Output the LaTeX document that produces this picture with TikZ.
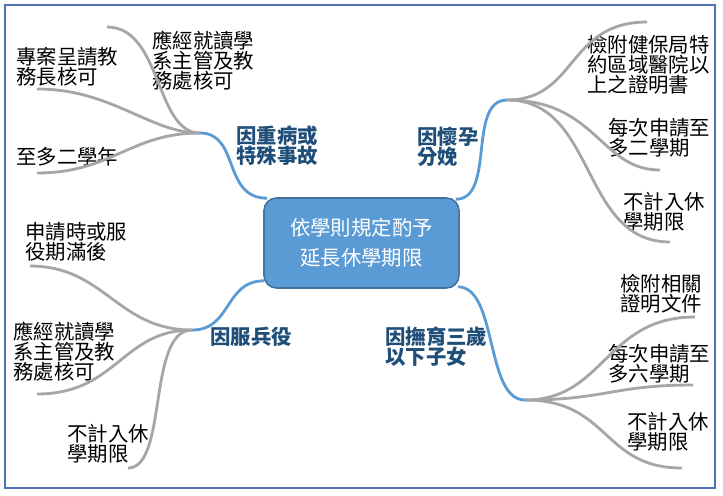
\documentclass[tikz,border=0pt]{standalone}
\usepackage{fontspec}
\usepackage{xcolor}
\usepackage{tikz}
\usetikzlibrary{calc}
\newfontfamily\cjk{Noto Sans CJK TC}
\definecolor{mmblue}{RGB}{91,155,213}
\definecolor{mmborder}{RGB}{65,113,156}
\definecolor{mmtopic}{RGB}{31,78,121}
\definecolor{mmgrey}{RGB}{166,166,166}
\definecolor{mmframe}{RGB}{79,114,181}

\begin{document}
\begin{tikzpicture}[x=0.025cm, y=-0.025cm,
    centre/.style={rectangle, draw=mmborder, line width=1.1pt, rounded corners=9pt,
        fill=mmblue, minimum width=4.875cm, minimum height=2.25cm, text=white,
        align=center, font=\cjk\fontsize{14.5}{21.3}\selectfont},
    topic/.style={anchor=west, inner sep=0pt, align=left, text=mmtopic,
        font=\cjk\bfseries\fontsize{14.5}{14.2}\selectfont},
    leaf/.style={anchor=west, inner sep=0pt, align=left, text=black,
        font=\cjk\fontsize{14.5}{14.2}\selectfont},
    bluelink/.style={draw=mmblue, line width=2pt},
    greylink/.style={draw=mmgrey, line width=2pt}
]
\useasboundingbox (0,0) rectangle (723,495);
\draw[mmframe, line width=0.9pt] (5,5) rectangle (715,488);

\node[centre] (root) at (361.5,243) {依學則規定酌予\\延長休學期限};

\node[topic] (ill)   at (236,146) {因重病或\\特殊事故};
\node[topic] (preg)  at (417,147) {因懷孕\\分娩};
\node[topic] (army)  at (210,337) {因服兵役};
\node[topic] (child) at (385,347) {因撫育三歲\\以下子女};

\node[leaf] (illA)   at (152,61)  {應經就讀學\\系主管及教\\務處核可};
\node[leaf] (illB)   at (16,67)   {專案呈請教\\務長核可};
\node[leaf] (illC)   at (16,157)  {至多二學年};
\node[leaf] (pregA)  at (587,65)  {檢附健保局特\\約區域醫院以\\上之證明書};
\node[leaf] (pregB)  at (608,138) {每次申請至\\多二學期};
\node[leaf] (pregC)  at (623,212) {不計入休\\學期限};
\node[leaf] (armyA)  at (25,242)  {申請時或服\\役期滿後};
\node[leaf] (armyB)  at (13,352)  {應經就讀學\\系主管及教\\務處核可};
\node[leaf] (armyC)  at (67,444)  {不計入休\\學期限};
\node[leaf] (childA) at (620,294) {檢附相關\\證明文件};
\node[leaf] (childB) at (608,364) {每次申請至\\多六學期};
\node[leaf] (childC) at (627,432) {不計入休\\學期限};

\coordinate (illhub)   at (200,133);
\coordinate (preghub)  at (507,100);
\coordinate (armyhub)  at (192,330);
\coordinate (childhub) at (525,400);

\coordinate (illAend)   at (107,27);
\coordinate (illBend)   at (37,89);
\coordinate (illCend)   at (37,173);
\coordinate (pregAend)  at (647,22);
\coordinate (pregBend)  at (660,170);
\coordinate (pregCend)  at (670,242);
\coordinate (armyAend)  at (30,266);
\coordinate (armyBend)  at (37,394);
\coordinate (armyCend)  at (128,468);
\coordinate (childAend) at (695,317);
\coordinate (childBend) at (693,385);
\coordinate (childCend) at (682,468);

\draw[bluelink] ($(root.north west)+(4,1)$) .. controls +(-45,0) and +(40,0) .. (illhub);
\draw[bluelink] ($(root.north east)+(-4,2)$) .. controls +(40,0) and +(-40,0) .. (preghub);
\draw[bluelink] ($(root.south west)+(1,-8)$) .. controls +(-40,0) and +(40,0) .. (armyhub);
\draw[bluelink] ($(root.south east)+(-2,-2)$) .. controls +(40,0) and +(-40,0) .. (childhub);

\draw[greylink] (illhub) .. controls +(-45,0) and +(55,0) .. (illAend);
\draw[greylink] (illhub) .. controls +(-50,0) and +(75,0) .. (illBend);
\draw[greylink] (illhub) .. controls +(-70,0) and +(75,0) .. (illCend);

\draw[greylink] (preghub) .. controls +(70,0) and +(-80,0) .. (pregAend);
\draw[greylink] (preghub) .. controls +(90,0) and +(-60,0) .. (pregBend);
\draw[greylink] (preghub) .. controls +(90,0) and +(-90,0) .. (pregCend);

\draw[greylink] (armyhub) .. controls +(-75,0) and +(75,0) .. (armyAend);
\draw[greylink] (armyhub) .. controls +(-70,0) and +(80,0) .. (armyBend);
\draw[greylink] (armyhub) .. controls +(-45,0) and +(40,0) .. (armyCend);

\draw[greylink] (childhub) .. controls +(80,0) and +(-90,0) .. (childAend);
\draw[greylink] (childhub) .. controls +(80,0) and +(-80,0) .. (childBend);
\draw[greylink] (childhub) .. controls +(85,0) and +(-80,0) .. (childCend);
\end{tikzpicture}
\end{document}
